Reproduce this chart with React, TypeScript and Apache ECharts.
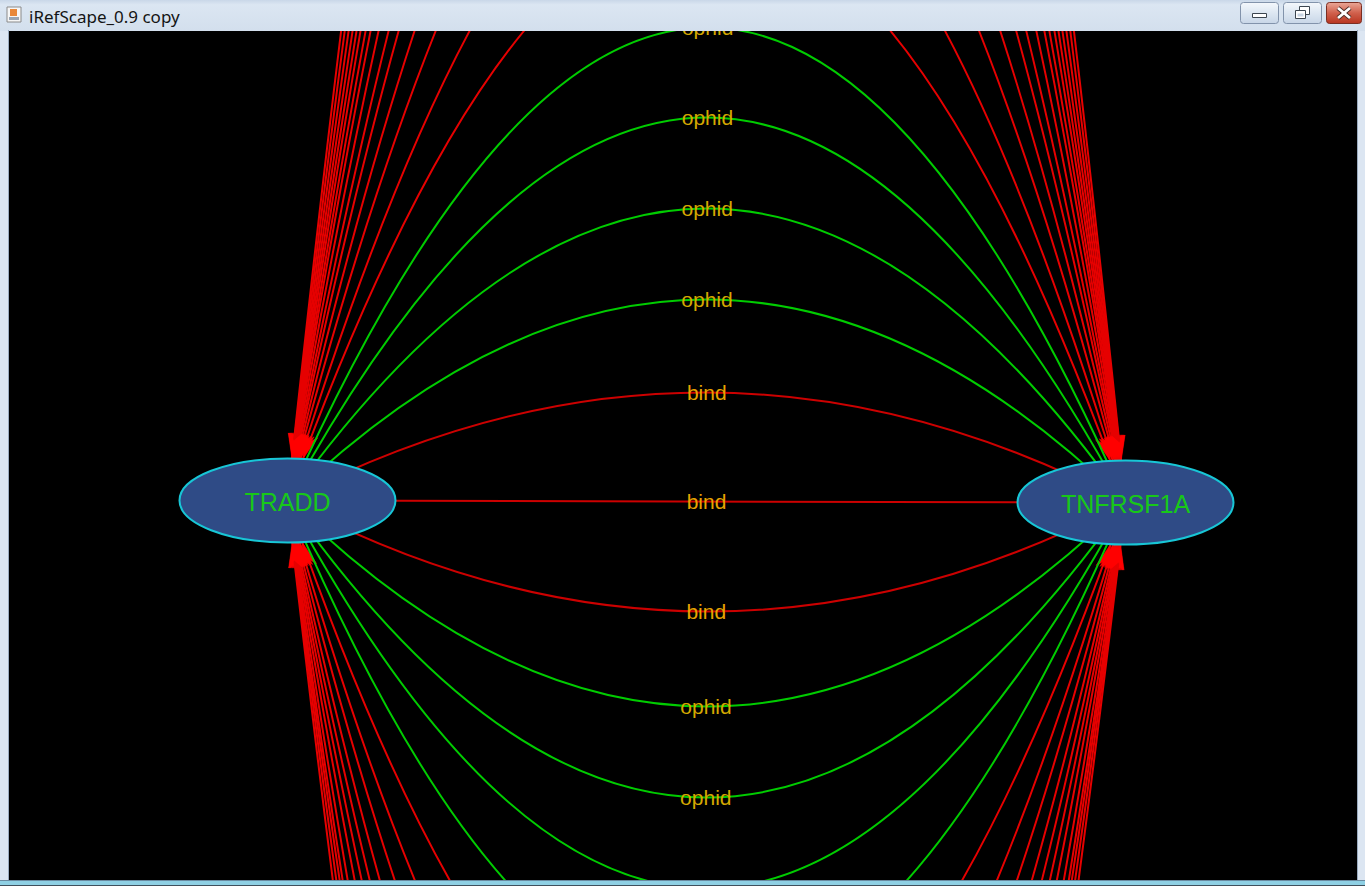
import React, { useEffect, useRef } from 'react';
import * as echarts from 'echarts';

const W = 1365;
const H = 886;

// Nodes of the network (positions in the view's coordinate space)
const nodeNames = ['TRADD', 'TNFRSF1A'];
const nodeX = [287.5, 1125.5];
const nodeY = [500.5, 502.5];

// Edge bends: signed offset of each edge's midpoint from the straight chord (negative = above)
const bindBends = [0, -109, 110];
const ophidBends = [-202, -293, -384, -474, 205, 296, 387, 492];
const directedBends = [
  -582, -694, -812, -920, -1030, -1118, -1226, -1331, -1408, -1497, -1577, -1666, -1767, -1880, -2000,
  605, 732, 844, 960, 1062, 1163, 1271, 1404, 1520, 1600, 1700, 1820,
];

type Edge = { kind: 'bind' | 'ophid' | 'directed'; bend: number; label: string };
const edges: Edge[] = [
  ...directedBends.map((b) => ({ kind: 'directed' as const, bend: b, label: '' })),
  ...ophidBends.map((b) => ({ kind: 'ophid' as const, bend: b, label: 'ophid' })),
  ...bindBends.map((b) => ({ kind: 'bind' as const, bend: b, label: 'bind' })),
];

const NODE_RX = 108;
const NODE_RY = 42;
const FONT = '"Liberation Sans", Arial, sans-serif';

const edgeColor: Record<string, string> = { bind: '#cc0000', ophid: '#00cc00', directed: '#e60000' };
const labelColor: Record<string, string> = { bind: '#e8a400', ophid: '#d4a800', directed: '#d4a800' };

type P = number[];
function bez(p0: P, c: P, p2: P, t: number): P {
  const u = 1 - t;
  return [u * u * p0[0] + 2 * u * t * c[0] + t * t * p2[0], u * u * p0[1] + 2 * u * t * c[1] + t * t * p2[1]];
}
function dbez(p0: P, c: P, p2: P, t: number): P {
  const u = 1 - t;
  return [2 * u * (c[0] - p0[0]) + 2 * t * (p2[0] - c[0]), 2 * u * (c[1] - p0[1]) + 2 * t * (p2[1] - c[1])];
}
function exitT(p0: P, c: P, p2: P, center: P, fromStart: boolean): number {
  let lo = fromStart ? 0 : 0.5;
  let hi = fromStart ? 0.5 : 1;
  const inside = (t: number) => {
    const q = bez(p0, c, p2, t);
    const a = (q[0] - center[0]) / NODE_RX;
    const b = (q[1] - center[1]) / NODE_RY;
    return a * a + b * b < 1;
  };
  for (let i = 0; i < 40; i++) {
    const m = (lo + hi) / 2;
    if (fromStart ? inside(m) : !inside(m)) lo = m;
    else hi = m;
  }
  return (lo + hi) / 2;
}
function arrow(tip: P, dir: P, color: string) {
  const L = 25;
  const w = 6.5;
  const px = -dir[1];
  const py = dir[0];
  const bx = tip[0] - dir[0] * L;
  const by = tip[1] - dir[1] * L;
  const nx = tip[0] - dir[0] * L * 0.72;
  const ny = tip[1] - dir[1] * L * 0.72;
  return {
    type: 'polygon',
    shape: { points: [tip, [bx + px * w, by + py * w], [nx, ny], [bx - px * w, by - py * w]] },
    style: { fill: color, stroke: color, lineWidth: 0.5 },
  };
}

function renderEdge(params: any, api: any) {
  const e = edges[params.dataIndex];
  const p0 = api.coord([nodeX[0], nodeY[0]]);
  const p2 = api.coord([nodeX[1], nodeY[1]]);
  const dx = nodeX[1] - nodeX[0];
  const dy = nodeY[1] - nodeY[0];
  const len = Math.sqrt(dx * dx + dy * dy);
  const nx = -dy / len;
  const ny = dx / len;
  const mx = (nodeX[0] + nodeX[1]) / 2;
  const my = (nodeY[0] + nodeY[1]) / 2;
  const apex = api.coord([mx + e.bend * nx, my + e.bend * ny]);
  const c = [2 * apex[0] - (p0[0] + p2[0]) / 2, 2 * apex[1] - (p0[1] + p2[1]) / 2];
  const color = edgeColor[e.kind];
  const children: any[] = [
    {
      type: 'bezierCurve',
      shape: { x1: p0[0], y1: p0[1], x2: p2[0], y2: p2[1], cpx1: c[0], cpy1: c[1] },
      style: { stroke: color, lineWidth: 2, fill: null },
    },
  ];
  if (e.kind === 'directed') {
    const ts = exitT(p0, c, p2, p0, true);
    const te = exitT(p0, c, p2, p2, false);
    const ds = dbez(p0, c, p2, ts);
    const dsl = Math.hypot(ds[0], ds[1]);
    const de = dbez(p0, c, p2, te);
    const del = Math.hypot(de[0], de[1]);
    children.push(arrow(bez(p0, c, p2, ts), [-ds[0] / dsl, -ds[1] / dsl], '#ff0000'));
    children.push(arrow(bez(p0, c, p2, te), [de[0] / del, de[1] / del], '#ff0000'));
  }
  if (e.label) {
    children.push({
      type: 'text',
      z2: 10,
      style: {
        x: apex[0],
        y: apex[1],
        text: e.label,
        fill: labelColor[e.kind],
        font: `21px ${FONT}`,
        align: 'center',
        verticalAlign: 'middle',
      },
    });
  }
  return { type: 'group', children };
}

function renderNode(params: any, api: any) {
  const p = api.coord([api.value(0), api.value(1)]);
  return {
    type: 'group',
    children: [
      {
        type: 'ellipse',
        shape: { cx: p[0], cy: p[1], rx: NODE_RX, ry: NODE_RY },
        style: { fill: '#2f4b86', stroke: '#18c6d6', lineWidth: 2 },
      },
      {
        type: 'text',
        style: {
          x: p[0],
          y: p[1] + 1,
          text: nodeNames[params.dataIndex],
          fill: '#18c818',
          font: `25px ${FONT}`,
          align: 'center',
          verticalAlign: 'middle',
        },
      },
    ],
  };
}

function chrome(): any[] {
  const btnGrad = new echarts.graphic.LinearGradient(0, 0, 0, 1, [
    { offset: 0, color: '#f4f8fc' },
    { offset: 0.5, color: '#dde7f2' },
    { offset: 1, color: '#c8d6e7' },
  ]);
  const closeGrad = new echarts.graphic.LinearGradient(0, 0, 0, 1, [
    { offset: 0, color: '#eaa797' },
    { offset: 0.5, color: '#d0604c' },
    { offset: 1, color: '#b83520' },
  ]);
  return [
    {
      type: 'rect',
      shape: { x: 0, y: 0, width: W, height: 31 },
      style: {
        fill: new echarts.graphic.LinearGradient(0, 0, 0, 1, [
          { offset: 0, color: '#c9d7e8' },
          { offset: 0.15, color: '#dbe6f2' },
          { offset: 1, color: '#d3dfed' },
        ]),
      },
    },
    { type: 'rect', shape: { x: 0, y: 31, width: 9, height: 849 }, style: { fill: '#dce6f2' } },
    { type: 'rect', shape: { x: 1357, y: 31, width: 8, height: 849 }, style: { fill: '#dce6f2' } },
    { type: 'rect', shape: { x: 0, y: 880, width: W, height: 6 }, style: { fill: '#8fd0e4' } },
    { type: 'line', shape: { x1: 0, y1: 880.5, x2: W, y2: 880.5 }, style: { stroke: '#6a8aa0', lineWidth: 1 } },
    { type: 'line', shape: { x1: 0, y1: 885.5, x2: W, y2: 885.5 }, style: { stroke: '#40505c', lineWidth: 1 } },
    { type: 'line', shape: { x1: 8.5, y1: 30, x2: 8.5, y2: 880 }, style: { stroke: '#9aabbf', lineWidth: 1 } },
    { type: 'line', shape: { x1: 1357.5, y1: 30, x2: 1357.5, y2: 880 }, style: { stroke: '#9aabbf', lineWidth: 1 } },
    // window icon
    { type: 'rect', shape: { x: 7, y: 7, width: 14, height: 15 }, style: { fill: '#f6f6f6', stroke: '#8a8a8a', lineWidth: 1 } },
    { type: 'rect', shape: { x: 10, y: 9, width: 7, height: 7 }, style: { fill: '#e8883a' } },
    { type: 'rect', shape: { x: 9, y: 17, width: 10, height: 3 }, style: { fill: '#9aa6b4' } },
    {
      type: 'text',
      style: { x: 29, y: 16, text: 'iRefScape_0.9 copy', font: '17px "Noto Sans", "DejaVu Sans", sans-serif', fill: '#141414', verticalAlign: 'middle' },
    },
    // minimize
    { type: 'rect', shape: { x: 1240.5, y: 2.5, width: 38, height: 21, r: 3 }, style: { fill: btnGrad, stroke: '#8293ab', lineWidth: 1 } },
    { type: 'rect', shape: { x: 1252.5, y: 13.5, width: 14, height: 4 }, style: { fill: '#ffffff', stroke: '#3c4650', lineWidth: 1 } },
    // restore
    { type: 'rect', shape: { x: 1283.5, y: 2.5, width: 38, height: 21, r: 3 }, style: { fill: btnGrad, stroke: '#8293ab', lineWidth: 1 } },
    { type: 'rect', shape: { x: 1299.5, y: 6.5, width: 10, height: 8 }, style: { fill: '#ffffff', stroke: '#3c4650', lineWidth: 1 } },
    { type: 'rect', shape: { x: 1295.5, y: 10.5, width: 10, height: 8 }, style: { fill: '#ffffff', stroke: '#3c4650', lineWidth: 1 } },
    { type: 'rect', shape: { x: 1297.5, y: 13.5, width: 6, height: 3 }, style: { fill: '#c8d4e2' } },
    // close
    { type: 'rect', shape: { x: 1326.5, y: 2.5, width: 35, height: 21, r: 3 }, style: { fill: closeGrad, stroke: '#7a2e22', lineWidth: 1 } },
    { type: 'line', shape: { x1: 1338, y1: 8, x2: 1350, y2: 18 }, style: { stroke: '#4a2a24', lineWidth: 4.5 } },
    { type: 'line', shape: { x1: 1350, y1: 8, x2: 1338, y2: 18 }, style: { stroke: '#4a2a24', lineWidth: 4.5 } },
    { type: 'line', shape: { x1: 1338, y1: 8, x2: 1350, y2: 18 }, style: { stroke: '#ffffff', lineWidth: 2.8 } },
    { type: 'line', shape: { x1: 1350, y1: 8, x2: 1338, y2: 18 }, style: { stroke: '#ffffff', lineWidth: 2.8 } },
  ];
}

export default function App() {
  const ref = useRef<HTMLDivElement>(null);
  useEffect(() => {
    document.body.style.margin = '0';
    if (!ref.current) return;
    const chart = echarts.init(ref.current, null, { renderer: 'svg' });
    chart.setOption({
      animation: false,
      backgroundColor: '#dce6f2',
      grid: { left: 9, top: 31, width: 1348, height: 849, show: true, backgroundColor: '#000000', borderWidth: 0 },
      xAxis: { type: 'value', min: 9, max: 1357, show: false },
      yAxis: { type: 'value', min: 31, max: 880, inverse: true, show: false },
      graphic: chrome(),
      series: [
        {
          type: 'custom',
          name: 'edges',
          coordinateSystem: 'cartesian2d',
          clip: true,
          data: edges.map((e) => [e.bend]),
          renderItem: renderEdge,
          z: 2,
        },
        {
          type: 'custom',
          name: 'nodes',
          coordinateSystem: 'cartesian2d',
          clip: true,
          data: nodeNames.map((_, i) => [nodeX[i], nodeY[i]]),
          renderItem: renderNode,
          z: 5,
        },
      ],
    });
    return () => chart.dispose();
  }, []);
  return <div ref={ref} style={{ position: 'fixed', left: 0, top: 0, width: W, height: H }} />;
}
